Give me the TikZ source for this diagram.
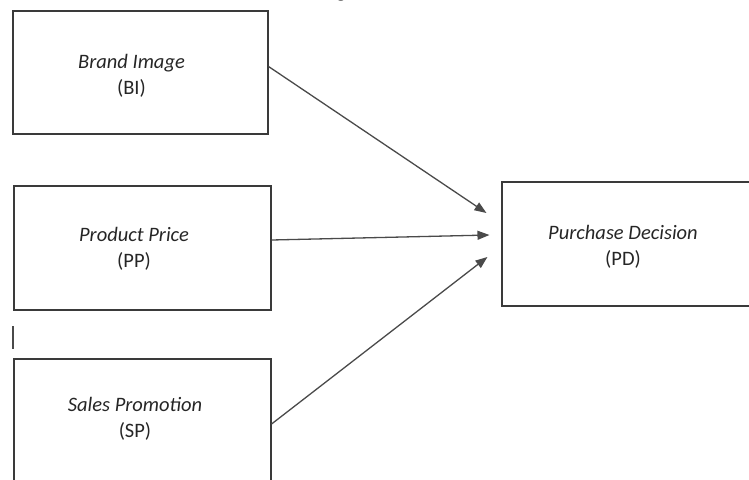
\documentclass[tikz,border=0pt]{standalone}
\usepackage{fontspec}
\setmainfont{Carlito}
\newfontfamily\capfont{Liberation Serif}
\usepackage{xcolor}
\usetikzlibrary{positioning, arrows.meta}
\definecolor{boxline}{HTML}{3A3A3A}
\definecolor{arrline}{HTML}{4A4A4A}
\definecolor{txt}{HTML}{262626}
\tikzstyle{varbox} = [rectangle, draw=boxline, line width=1.1pt]
\tikzstyle{vartext} = [text=txt, text centered, align=center, inner sep=0pt, font=\fontsize{20.5}{26}\selectfont]
\tikzstyle{arrow} = [draw=arrline, line width=1.3pt, -{Triangle[length=12pt,width=9pt]}]

\begin{document}
\begin{tikzpicture}[x=1pt, y=-1pt]
		\useasboundingbox (0,0) rectangle (749,479);
		\node (BI) [varbox, minimum width=255pt, minimum height=123pt] at (140.5,72.5) {};
		\node (PP) [varbox, minimum width=257pt, minimum height=124pt] at (142.5,248) {};
		\node (SP) [varbox, minimum width=257pt, minimum height=124pt] at (142.5,421) {};
		\node (PD) [varbox, minimum width=252pt, minimum height=124pt] at (628,244) {};
		\node (BItext) [vartext] at ([xshift=-9pt,yshift=-3.5pt]BI.center) {\textit{Brand Image}\\(BI)};
		\node (PPtext) [vartext] at ([xshift=-8.5pt,yshift=-1pt]PP.center) {\textit{Product Price}\\(PP)};
		\node (SPtext) [vartext] at ([xshift=-7.5pt,yshift=2pt]SP.center) {\textit{Sales Promotion}\\(SP)};
		\node (PDtext) [vartext] at ([xshift=-5pt,yshift=-2.5pt]PD.center) {\textit{Purchase Decision}\\(PD)};
		% remnants at the edges
		\node (cap) [anchor=base, inner sep=0pt, font=\capfont\bfseries\fontsize{16}{16}\selectfont] at (341,-2.5) {g};
		\coordinate (markTop) at (13,326);
		\coordinate (markBot) at (13,349);
		\draw [draw=arrline, line width=1.2pt](markTop) -- (markBot);
		% arrow tips in front of PD
		\coordinate (inBI) at ([xshift=-15pt,yshift=31pt]PD.west);
		\coordinate (inPP) at ([xshift=-12pt,yshift=9pt]PD.west);
		\coordinate (inSP) at ([xshift=-14pt,yshift=-13pt]PD.west);
		\draw [arrow]([yshift=6pt]BI.east) -- (inBI);
		\draw [arrow]([yshift=8pt]PP.east) -- (inPP);
		\draw [arrow]([yshift=-3pt]SP.east) -- (inSP);
	\end{tikzpicture}
\end{document}
